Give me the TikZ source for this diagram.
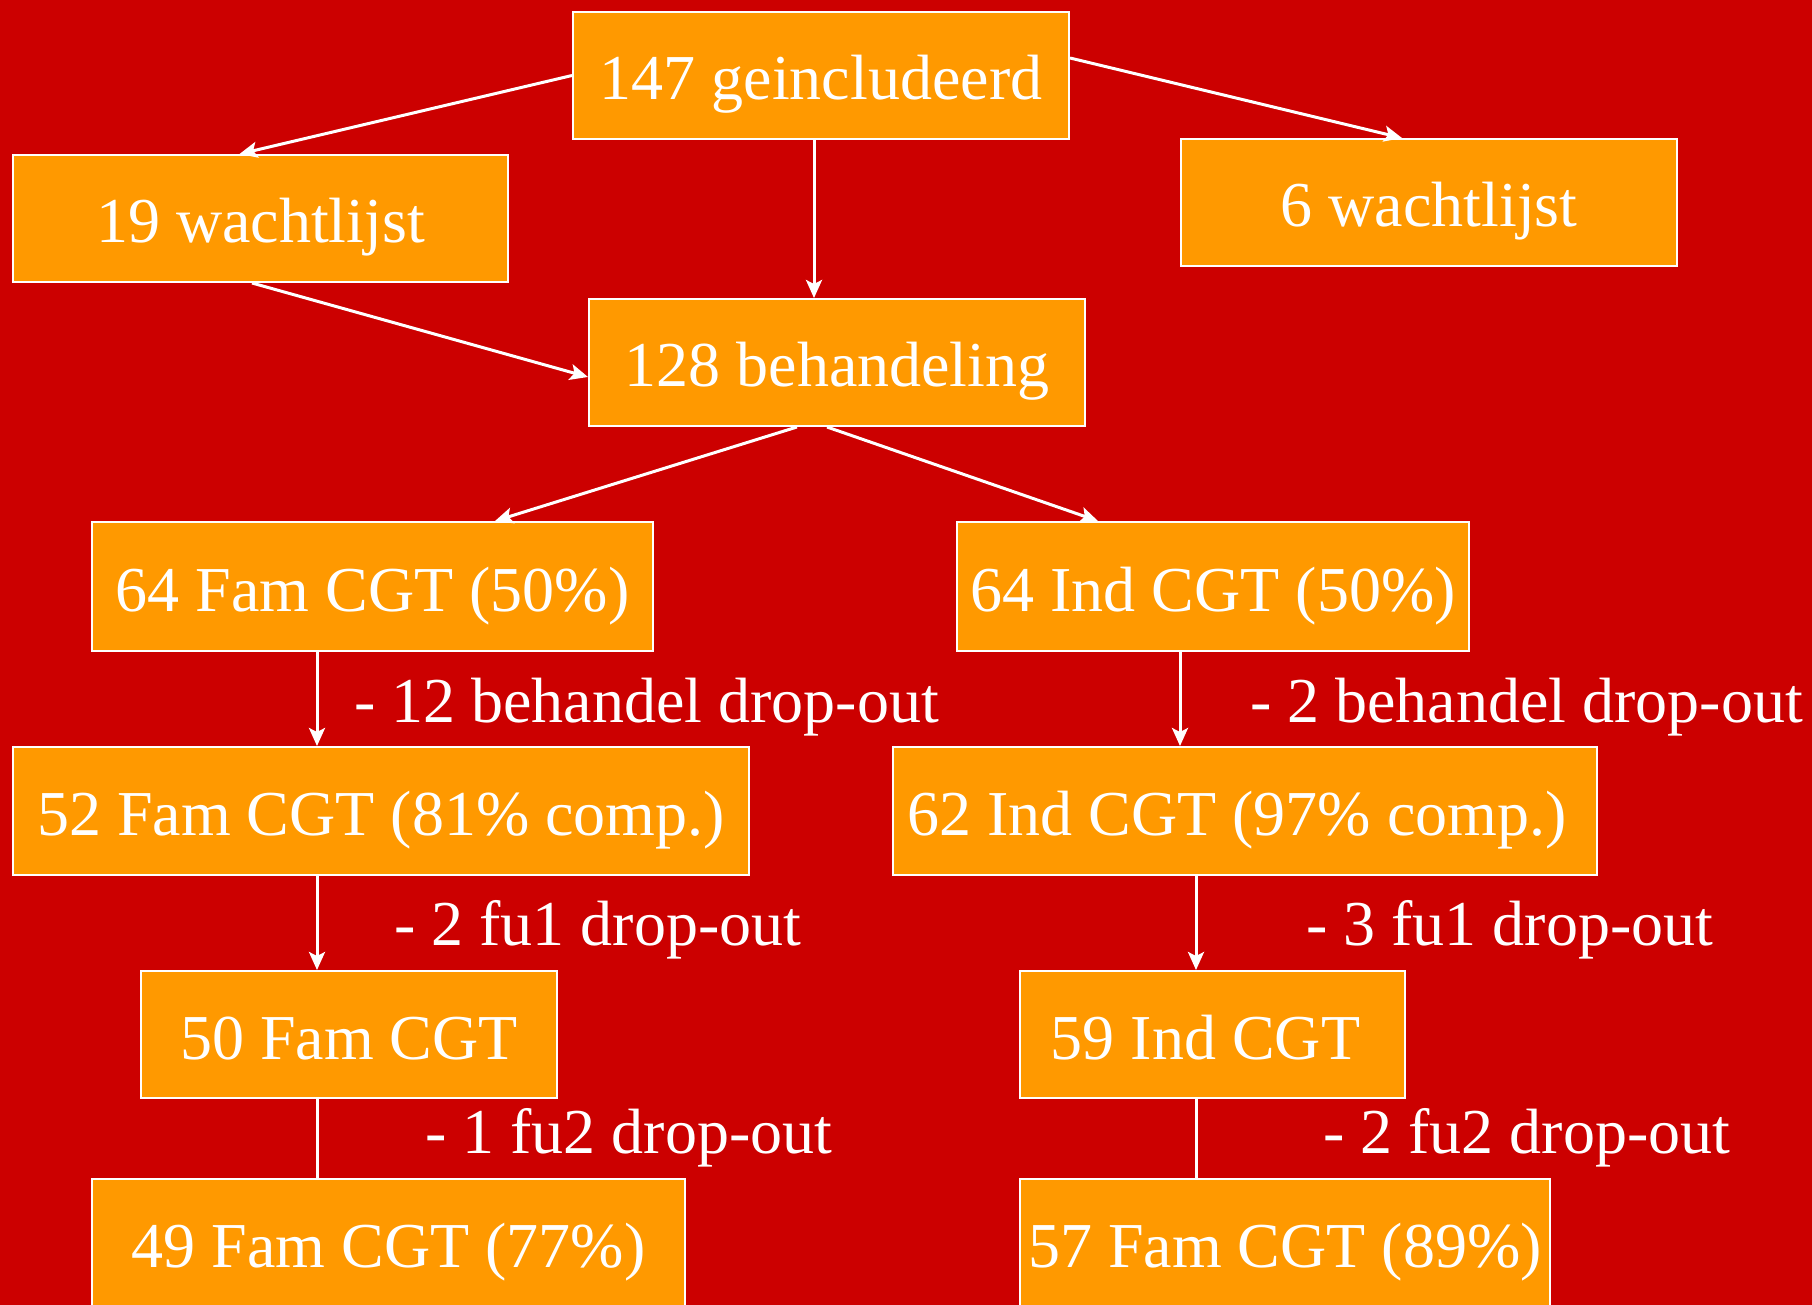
\documentclass[tikz,border=0pt]{standalone}
\usepackage{fontspec}
\setmainfont{Liberation Serif}
\usetikzlibrary{arrows.meta}
\definecolor{bgred}{HTML}{CC0000}
\definecolor{boxorange}{HTML}{FF9900}
\begin{document}
\begin{tikzpicture}[x=1pt,y=-1pt,
  box/.style={draw=white,line width=2pt,fill=boxorange,text=white,inner sep=0pt,
    font=\fontsize{64}{70}\selectfont,minimum height=127pt,text height=63pt,text depth=14pt},
  lbl/.style={text=white,anchor=west,inner sep=0pt,font=\fontsize{64}{70}\selectfont},
  conn/.style={draw=white,line width=3pt},
  arr/.style={conn,-{Stealth[length=18pt,width=16pt,inset=4pt]}}]
\fill[bgred] (0,0) rectangle (1812,1305);
\useasboundingbox (0,0) rectangle (1812,1305);
\node[box,minimum width=496pt] (A) at (821,75.5) {147 geincludeerd};
\node[box,minimum width=495pt] (B) at (260.5,218.5) {19 wachtlijst};
\node[box,minimum width=496pt] (C) at (1429,202.5) {6 wachtlijst};
\node[box,minimum width=496pt] (D) at (837,362.5) {128 behandeling};
\node[box,minimum width=561pt,minimum height=129pt] (E) at (372.5,586.5) {64 Fam CGT (50\%)};
\node[box,minimum width=512pt,minimum height=129pt] (F) at (1213,586.5) {64 Ind CGT (50\%)};
\node[box,minimum width=736pt,minimum height=128pt] (G) at (381,811) {52 Fam CGT (81\% comp.)};
\node[box,minimum width=704pt,minimum height=128pt] (H) at (1245,811) {\hspace*{-16pt}62 Ind CGT (97\% comp.)};
\node[box,minimum width=416pt] (I) at (349,1034.5) {50 Fam CGT};
\node[box,minimum width=385pt] (J) at (1212.5,1034.5) {\hspace*{-14pt}59 Ind CGT};
\node[box,minimum width=593pt] (K) at (388.5,1242.5) {49 Fam CGT (77\%)};
\node[box,minimum width=530pt] (L) at (1285,1242.5) {57 Fam CGT (89\%)};

\draw[arr] (A.west) -- ([xshift=-21pt]B.north);
\draw[arr] ([yshift=17.5pt]A.east) -- ([xshift=-27pt]C.north);
\draw[arr] ([xshift=-7pt]A.south) -- ([xshift=-23pt]D.north);
\draw[arr] ([xshift=-8.5pt]B.south) -- ([yshift=-14.5pt]D.west);
\draw[arr] ([xshift=-40pt]D.south) -- ([xshift=122.5pt]E.north);
\draw[arr] ([xshift=-10pt]D.south) -- ([xshift=-115pt]F.north);
\draw[arr] ([xshift=-55.5pt]E.south) -- ([xshift=-64pt]G.north);
\draw[arr] ([xshift=-33pt]F.south) -- ([xshift=-65pt]H.north);
\draw[arr] ([xshift=-64pt]G.south) -- ([xshift=-32pt]I.north);
\draw[arr] ([xshift=-49pt]H.south) -- ([xshift=-16.5pt]J.north);
\draw[conn] ([xshift=-32pt]I.south) -- ([xshift=-71.5pt]K.north);
\draw[conn] ([xshift=-16.5pt]J.south) -- ([xshift=-89pt]L.north);

\node[lbl] (l1) at (354,707) {- 12 behandel drop-out};
\node[lbl] (l2) at (1250,707) {- 2 behandel drop-out};
\node[lbl] (l3) at (394,930) {- 2 fu1 drop-out};
\node[lbl] (l4) at (1306,930) {- 3 fu1 drop-out};
\node[lbl] (l5) at (425,1138) {- 1 fu2 drop-out};
\node[lbl] (l6) at (1323,1138) {- 2 fu2 drop-out};
\end{tikzpicture}
\end{document}
